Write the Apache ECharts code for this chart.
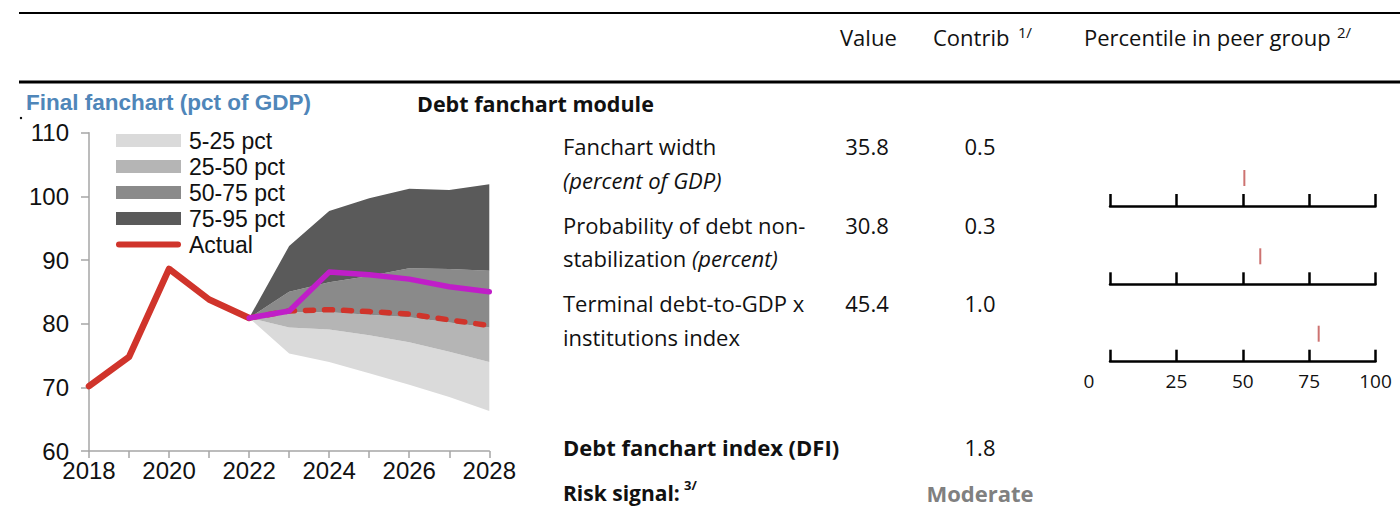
<!DOCTYPE html>
<html><head><meta charset="utf-8">
<script src="https://cdn.jsdelivr.net/npm/echarts@6/dist/echarts.min.js"></script>
<style>html,body{margin:0;padding:0;background:#fff}#c{width:1400px;height:507px}</style>
</head><body><div id="c"></div>
<script>
// ---- data ----
const years = ['2018','2019','2020','2021','2022','2023','2024','2025','2026','2027','2028'];
const actual     = [70.2, 74.8, 88.6, 83.8, 80.9, null, null, null, null, null, null];
const projection = [null, null, null, null, 80.9, 82.0, 82.2, 81.9, 81.5, 80.6, 79.7];
const alternative= [null, null, null, null, 80.9, 82.0, 88.1, 87.7, 87.0, 85.8, 85.0];
const p5  = [null, null, null, null, 80.9, 75.3, 74.0, 72.2, 70.4, 68.5, 66.3];
const p25 = [null, null, null, null, 80.9, 79.4, 79.1, 78.2, 77.1, 75.6, 74.0];
const p50 = [null, null, null, null, 80.9, 81.8, 81.8, 81.4, 81.0, 80.2, 79.4];
const p75 = [null, null, null, null, 80.9, 85.0, 86.5, 87.5, 88.7, 88.6, 88.3];
const p95 = [null, null, null, null, 80.9, 92.2, 97.7, 99.7, 101.2, 101.0, 101.9];
const bandNames = ['5-25 pct', '25-50 pct', '50-75 pct', '75-95 pct'];
const yTicks = [60, 70, 80, 90, 100, 110];

const rowLabels1 = ['Fanchart width', 'Probability of debt non-', 'Terminal debt-to-GDP x'];
const rowLabels2 = ['{i|(percent of GDP)}', 'stabilization {i|(percent)}', 'institutions index'];
const rowValues = ['35.8', '30.8', '45.4'];
const rowContribs = ['0.5', '0.3', '1.0'];
const percentiles = [50.6, 56.6, 78.6];
const pctTicks = [0, 25, 50, 75, 100];
const dfiValue = '1.8';
const riskSignal = 'Moderate';

// ---- styles / layout ----
const bandColors = ['#dadada', '#b5b5b5', '#8a8a8a', '#5a5a5a'];
const RED = '#d0342b', MAG = '#c01ec8';
const AX = 'Liberation Sans, Arial, sans-serif';
const TB = 'Open Sans, sans-serif';
const rowY = [146, 225, 303];
const rowY2 = [180, 258, 337];
const baseY = [206, 284.3, 361.7];
const MARKER_Y = 28;

function diff(a, b) { return a.map((v, i) => (v == null || b[i] == null) ? null : +(v - b[i]).toFixed(2)); }
const bands = [diff(p25, p5), diff(p50, p25), diff(p75, p50), diff(p95, p75)];

function T(x, y, text, o) {
  o = o || {};
  const fs = o.fs || 22;
  return {
    type: 'text', x: x, y: y, scaleX: o.sx || 1, silent: true,
    style: {
      text: text, fontSize: fs, fontFamily: o.ff || TB, fontWeight: o.fw || 'normal',
      fontStyle: o.fst || 'normal', fill: o.c || '#111',
      align: o.al || 'left', textAlign: o.al || 'left',
      verticalAlign: 'middle', textVerticalAlign: 'middle',
      rich: { i: { fontStyle: 'italic', fontSize: fs, fontFamily: TB, fill: '#111' } }
    }
  };
}

const graphics = [
  { type: 'line', shape: { x1: 19, y1: 13, x2: 1400, y2: 13 }, style: { stroke: '#000', lineWidth: 2 }, silent: true },
  { type: 'line', shape: { x1: 19, y1: 82, x2: 1400, y2: 82 }, style: { stroke: '#000', lineWidth: 3 }, silent: true },
  { type: 'circle', shape: { cx: 21, cy: 118, r: 1.2 }, style: { fill: '#000' }, silent: true },
  T(840, 37, 'Value'),
  T(933, 37, 'Contrib'),
  T(1018, 32, '1/', { fs: 15 }),
  T(1084, 37, 'Percentile in peer group'),
  T(1337, 32, '2/', { fs: 15 }),
  T(26, 102, 'Final fanchart (pct of GDP)', { ff: AX, fw: 'bold', fs: 22.5, c: '#4f86b9' }),
  T(417, 103, 'Debt fanchart module', { fw: 'bold', fs: 21.5 }),
  T(563, 447, 'Debt fanchart index (DFI)', { fw: 'bold', fs: 22 }),
  T(980, 447, dfiValue, { al: 'center' }),
  T(563, 493, 'Risk signal:', { fw: 'bold', fs: 21 }),
  T(684, 485, '3/', { fs: 13, fw: 'bold' }),
  T(980, 493, riskSignal, { fw: 'bold', fs: 22, c: '#808080', al: 'center' })
];
for (let i = 0; i < 3; i++) {
  graphics.push(T(563, rowY[i], rowLabels1[i]));
  graphics.push(T(563, rowY2[i], rowLabels2[i]));
  graphics.push(T(867, rowY[i], rowValues[i], { al: 'center' }));
  graphics.push(T(980, rowY[i], rowContribs[i], { al: 'center' }));
}

const grids = [{ left: 89, top: 132.7, width: 400.3, height: 318.3 }];
const xAxes = [{
  gridIndex: 0, type: 'category', data: years, boundaryGap: false,
  axisLine: { lineStyle: { color: '#a6a6a6', width: 1.5 } },
  axisTick: { show: true, interval: 0, length: 7, lineStyle: { color: '#a6a6a6', width: 1.5 } },
  axisLabel: { interval: 1, fontSize: 24, fontFamily: AX, color: '#111', margin: 7 },
  splitLine: { show: false }
}];
const yAxes = [{
  gridIndex: 0, type: 'value', min: yTicks[0], max: yTicks[yTicks.length - 1], interval: 10,
  axisLine: { show: true, lineStyle: { color: '#a6a6a6', width: 1.5 } },
  axisTick: { show: true, length: 8, lineStyle: { color: '#a6a6a6', width: 1.5 } },
  axisLabel: { fontSize: 24, fontFamily: AX, color: '#111', margin: 20 },
  splitLine: { show: false }
}];
for (let i = 0; i < 3; i++) {
  grids.push({ left: 1110, width: 265.5, top: baseY[i] - 40, height: 40 });
  xAxes.push({
    gridIndex: i + 1, type: 'value', min: pctTicks[0], max: pctTicks[pctTicks.length - 1], interval: 25,
    axisLine: { show: true, lineStyle: { color: '#000', width: 2.5 } },
    axisTick: { show: true, inside: true, length: 12, lineStyle: { color: '#000', width: 2.5 } },
    axisLabel: {
      show: i === 2, fontSize: 19, fontFamily: TB, color: '#111', margin: 10,
      formatter: v => v === 0 ? '{z|0}' : String(v),
      rich: { z: { padding: [0, 42, 0, 0], fontSize: 19, fontFamily: TB, color: '#111' } }
    },
    splitLine: { show: false }
  });
  yAxes.push({ gridIndex: i + 1, type: 'value', min: 0, max: 40, show: false });
}

const series = [{
  name: 'base', type: 'line', stack: 'fan', data: p5, showSymbol: false, silent: true,
  lineStyle: { width: 0, opacity: 0 }, xAxisIndex: 0, yAxisIndex: 0
}];
bands.forEach((b, i) => series.push({
  name: bandNames[i], type: 'line', stack: 'fan', data: b, showSymbol: false, silent: true,
  lineStyle: { width: 0, opacity: 0 }, itemStyle: { color: bandColors[i] },
  areaStyle: { color: bandColors[i], opacity: 1 }, xAxisIndex: 0, yAxisIndex: 0
}));
series.push({
  name: 'Actual', type: 'line', data: actual, showSymbol: false, silent: true,
  lineStyle: { color: RED, width: 6.5, cap: 'round', join: 'round' }, itemStyle: { color: RED }
});
series.push({
  name: 'Projection', type: 'line', data: projection, showSymbol: false, silent: true,
  lineStyle: { color: RED, width: 5.5, type: [8, 11], cap: 'round', join: 'round' }, itemStyle: { color: RED }
});
series.push({
  name: 'Alternative', type: 'line', data: alternative, showSymbol: false, silent: true,
  lineStyle: { color: MAG, width: 5.5, cap: 'round', join: 'round' }, itemStyle: { color: MAG }
});
percentiles.forEach((p, i) => series.push({
  name: 'pct' + i, type: 'scatter', xAxisIndex: i + 1, yAxisIndex: i + 1, silent: true,
  data: [[p, MARKER_Y]], symbol: 'rect', symbolSize: [2, 16], itemStyle: { color: '#c0504d' }
}));

const legendData = bandNames.map((n, i) => ({ name: n, icon: 'rect', itemStyle: { color: bandColors[i] } }));
legendData.push({ name: 'Actual', icon: 'path://M3,0h59a3,3 0 0 1 0,6h-59a3,3 0 0 1 0,-6z', itemStyle: { color: RED } });

const chart = echarts.init(document.getElementById('c'), null, { renderer: 'svg' });
chart.setOption({
  animation: false,
  backgroundColor: '#fff',
  grid: grids, xAxis: xAxes, yAxis: yAxes, series: series,
  legend: {
    data: legendData, orient: 'vertical', left: 116, top: 129, itemWidth: 65, itemHeight: 13, itemGap: 3,
    selectedMode: false, padding: 0,
    textStyle: { fontSize: 23, fontFamily: AX, color: '#111', lineHeight: 22, padding: [0, 0, 0, 3] }
  },
  graphic: graphics
});
</script></body></html>
